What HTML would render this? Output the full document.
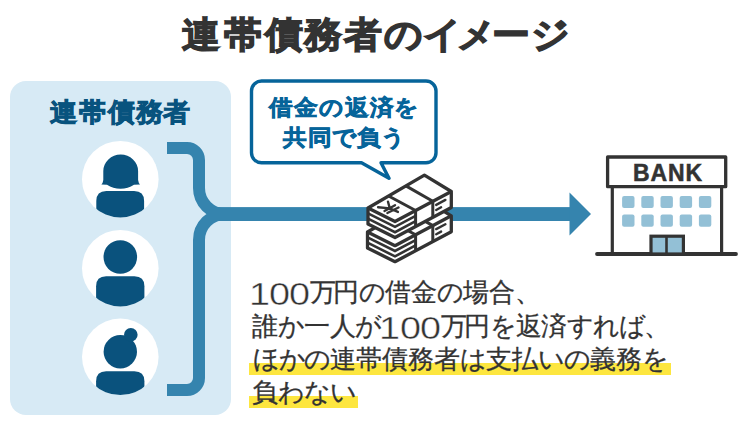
<!DOCTYPE html>
<html lang="ja">
<head>
<meta charset="utf-8">
<title>連帯債務者のイメージ</title>
<style>
html,body{margin:0;padding:0;background:#fff;}
body{width:750px;height:430px;overflow:hidden;position:relative;font-family:"Liberation Sans",sans-serif;}
.a{position:absolute;}
.ln{position:absolute;white-space:nowrap;font-family:"Liberation Sans",sans-serif;}
.ln i{display:inline-block;font-style:normal;text-align:center;overflow:visible;}
.ln i b{display:inline-block;font-weight:normal;}
.tt{transform:scaleY(0.95);transform-origin:50% 50%;font-size:38px;line-height:40px;height:40px;font-weight:bold;color:#333;-webkit-text-stroke:1.4px #333;}
.hd{transform:scaleY(0.965);transform-origin:50% 50%;font-size:27px;line-height:30px;height:30px;font-weight:bold;color:#08537e;-webkit-text-stroke:0.9px #08537e;}
.bb{transform:scaleY(0.93);transform-origin:50% 50%;font-size:24px;line-height:30px;height:30px;font-weight:bold;color:#06649a;-webkit-text-stroke:0.7px #06649a;}
.pp{font-size:26px;line-height:30px;height:30px;color:#333;-webkit-text-stroke:0.3px #333;}
.dg{font-size:31px;transform:scaleX(1.22);-webkit-text-stroke:0.4px #fff;position:relative;top:3.5px;}
#panel{left:9.5px;top:81px;width:221.5px;height:334px;border-radius:16px;background:#d7eaf5;}
.hl{position:absolute;background:#fde63f;}
</style>
</head>
<body>
<div id="panel" class="a"></div>
<div class="hl" style="left:249px;top:363px;width:422px;height:12px;"></div>
<div class="hl" style="left:249px;top:396px;width:109px;height:12px;"></div>

<svg class="a" style="left:0;top:0" width="750" height="430" viewBox="0 0 750 430">
  <defs>
    <clipPath id="c1"><circle cx="120.3" cy="179.2" r="38.3"/></clipPath>
    <clipPath id="c2"><circle cx="120.3" cy="268.2" r="38.3"/></clipPath>
    <clipPath id="c3"><circle cx="120.3" cy="356.8" r="38.3"/></clipPath>
  </defs>
  <circle cx="120.3" cy="179.2" r="38.3" fill="#fff"/>
  <circle cx="120.3" cy="268.2" r="38.3" fill="#fff"/>
  <circle cx="120.3" cy="356.8" r="38.3" fill="#fff"/>
  <g fill="#0a527d">
    <path d="M103.3 171 A17.4 16.4 0 0 1 138.1 171 L138.1 180 Q138.6 183.5 140 184.6 L134 184.8 Q128 188.7 120.5 188.7 Q113 188.7 107 184.8 L101.4 184.6 Q102.8 183.5 103.3 180 Z"/>
    <path clip-path="url(#c1)" d="M96.3 230 V201 Q96.3 190.9 106.3 190.9 H134.1 Q144.1 190.9 144.1 201 V230 Z"/>
    <circle cx="120.3" cy="257" r="16.8"/>
    <path clip-path="url(#c2)" d="M96.1 320 V286.3 Q96.1 276.3 106.1 276.3 H134.4 Q144.4 276.3 144.4 286.3 V320 Z"/>
    <circle cx="120.3" cy="351.7" r="16.7"/>
    <circle cx="130.8" cy="334.7" r="6.8"/>
    <path clip-path="url(#c3)" d="M96.1 410 V381.2 Q96.1 371.2 106.1 371.2 H134.4 Q144.4 371.2 144.4 381.2 V410 Z"/>
  </g>
  <path d="M167 148 H187 A12 12 0 0 1 199 160 V188 A26 26 0 0 0 225 214 A26 26 0 0 0 199 240 V378 A12 12 0 0 1 187 390 H167" fill="none" stroke="#3584ae" stroke-width="12"/>
  <rect x="218" y="207.1" width="353" height="13.9" fill="#3584ae"/>
  <path d="M569.5 192.5 L591 214 L569.5 235.5 Z" fill="#3584ae"/>

  <path d="M261.5 81 H426 A10 10 0 0 1 436 91 V152.8 A10 10 0 0 1 426 162.8 H381 L389 178.3 L361.5 162.8 H261.5 A10 10 0 0 1 251.5 152.8 V91 A10 10 0 0 1 261.5 81 Z" fill="#fff" stroke="#06649a" stroke-width="3.4" stroke-linejoin="round"/>

<path d="M367.5 232.0 L424.4 199.4 L451.3 215.8 L451.3 231.8 L395.0 261.7 L367.5 248.0 Z" fill="#fff" stroke="#333" stroke-width="3.3" stroke-linejoin="round"/>
<path d="M367.5 232.0 L395.0 245.7 L451.3 215.8" fill="none" stroke="#333" stroke-width="3.3" stroke-linejoin="round"/>
<path d="M388.3 220.1 L415.6 234.8 L415.6 250.8 M405.7 210.1 L432.8 225.6 L432.8 241.6" fill="none" stroke="#333" stroke-width="3" stroke-linejoin="round"/>
<path d="M367.5 237.3 L395.0 251.0 L415.6 240.1 M367.5 242.7 L395.0 256.4 L415.6 245.4 " fill="none" stroke="#333" stroke-width="2.6" stroke-linejoin="miter"/>
<path d="M436.2 229.1 L445.4 224.2 M436.2 234.2 L441.1 231.6 " fill="none" stroke="#333" stroke-width="2.4" stroke-linecap="round"/>
<path d="M368.0 208.0 L424.4 175.1 L451.3 191.5 L451.3 207.5 L395.0 237.5 L368.0 224.0 Z" fill="#fff" stroke="#333" stroke-width="3.3" stroke-linejoin="round"/>
<path d="M368.0 208.0 L395.0 221.5 L451.3 191.5" fill="none" stroke="#333" stroke-width="3.3" stroke-linejoin="round"/>
<path d="M388.6 196.0 L415.6 210.5 L415.6 226.5 M405.9 185.9 L432.8 201.3 L432.8 217.3" fill="none" stroke="#333" stroke-width="3" stroke-linejoin="round"/>
<path d="M368.0 213.3 L395.0 226.8 L415.6 215.9 M368.0 218.7 L395.0 232.2 L415.6 221.2 " fill="none" stroke="#333" stroke-width="2.6" stroke-linejoin="miter"/>
<path d="M436.2 204.9 L445.4 199.9 M436.2 210.0 L441.1 207.3 " fill="none" stroke="#333" stroke-width="2.4" stroke-linecap="round"/>
<path d="M378.1 207.2 L389.8 208.4 M388 201.7 L389.8 208.4 L397.9 211.9 M384.5 211 L395 205.2 M387.4 213 L398.5 207.5" fill="none" stroke="#333" stroke-width="2.4" stroke-linecap="round"/>

  <g stroke="#333" fill="none">
    <rect x="607.6" y="157" width="118.1" height="29.7" stroke-width="3.3" fill="#fff" stroke-linejoin="round"/>
    <path d="M612.3 188 V254 M721.6 188 V254" stroke-width="3.2"/>
    <path d="M597 254 H736" stroke-width="3.8" stroke-linecap="round"/>
    <rect x="651" y="236.2" width="32.4" height="17.8" fill="#93c0d6" stroke-width="3.2"/>
    <path d="M666.5 236 V254" stroke-width="2.6"/>
  </g>
  <g fill="#93c0d6">
    <rect x="622.1" y="196.1" width="12.4" height="12" rx="2"/>
    <rect x="641.3" y="196.1" width="12.4" height="12" rx="2"/>
    <rect x="660.5" y="196.1" width="12.4" height="12" rx="2"/>
    <rect x="679.7" y="196.1" width="12.4" height="12" rx="2"/>
    <rect x="698.9" y="196.1" width="12.4" height="12" rx="2"/>
    <rect x="622.1" y="214.5" width="12.4" height="12.3" rx="2"/>
    <rect x="641.3" y="214.5" width="12.4" height="12.3" rx="2"/>
    <rect x="660.5" y="214.5" width="12.4" height="12.3" rx="2"/>
    <rect x="679.7" y="214.5" width="12.4" height="12.3" rx="2"/>
    <rect x="698.9" y="214.5" width="12.4" height="12.3" rx="2"/>
  </g>
  <text x="667.9" y="181" text-anchor="middle" font-family="Liberation Sans" font-weight="bold" font-size="23" letter-spacing="0.9" fill="#333" stroke="#333" stroke-width="0.5">BANK</text>
</svg>

<div class="ln tt" style="left:180.10px;top:15.40px"><i style="width:42.60px">連</i><i style="width:41.30px">帯</i><i style="width:39.10px">債</i><i style="width:39.50px">務</i><i style="width:40.90px">者</i><i style="width:39.75px">の</i><i style="width:34.00px">イ</i><i style="width:34.35px">メ</i><i style="width:39.35px">ー</i><i style="width:39.50px">ジ</i></div>
<div class="ln hd" style="left:48.85px;top:96.90px"><i style="width:29.10px">連</i><i style="width:29.10px">帯</i><i style="width:28.60px">債</i><i style="width:27.70px">務</i><i style="width:27.30px">者</i></div>
<div class="ln bb" style="left:268.65px;top:92.60px"><i style="width:25.30px">借</i><i style="width:25.05px">金</i><i style="width:25.05px">の</i><i style="width:25.30px">返</i><i style="width:24.75px">済</i><i style="width:24.20px">を</i></div>
<div class="ln bb" style="left:282.45px;top:123.40px"><i style="width:25.30px">共</i><i style="width:24.45px">同</i><i style="width:24.50px">で</i><i style="width:24.60px">負</i><i style="width:23.80px">う</i></div>
<div class="ln pp" style="left:249.80px;top:276.30px"><i style="width:19.70px"><b class="dg">1</b></i><i style="width:20.15px"><b class="dg">0</b></i><i style="width:20.48px"><b class="dg">0</b></i><i style="width:23.14px">万</i><i style="width:25.93px">円</i><i style="width:25.93px">の</i><i style="width:25.93px">借</i><i style="width:25.93px">金</i><i style="width:25.93px">の</i><i style="width:25.93px">場</i><i style="width:25.93px">合</i><i style="width:25.93px">、</i></div>
<div class="ln pp" style="left:251.00px;top:310.30px"><i style="width:27.00px">誰</i><i style="width:26.35px">か</i><i style="width:25.25px">一</i><i style="width:25.45px">人</i><i style="width:23.68px">が</i><i style="width:21.05px"><b class="dg">1</b></i><i style="width:20.83px"><b class="dg">0</b></i><i style="width:20.50px"><b class="dg">0</b></i><i style="width:22.97px">万</i><i style="width:25.75px">円</i><i style="width:25.75px">を</i><i style="width:25.75px">返</i><i style="width:25.75px">済</i><i style="width:25.75px">す</i><i style="width:25.75px">れ</i><i style="width:25.75px">ば</i><i style="width:25.75px">、</i></div>
<div class="ln pp" style="left:252.56px;top:344.20px"><i style="width:25.98px">ほ</i><i style="width:25.98px">か</i><i style="width:25.98px">の</i><i style="width:25.98px">連</i><i style="width:25.98px">帯</i><i style="width:25.98px">債</i><i style="width:25.98px">務</i><i style="width:25.98px">者</i><i style="width:25.98px">は</i><i style="width:25.98px">支</i><i style="width:25.98px">払</i><i style="width:25.98px">い</i><i style="width:25.98px">の</i><i style="width:25.98px">義</i><i style="width:25.98px">務</i><i style="width:25.98px">を</i></div>
<div class="ln pp" style="left:252.21px;top:376.70px"><i style="width:25.98px">負</i><i style="width:25.98px">わ</i><i style="width:25.98px">な</i><i style="width:25.98px">い</i></div>
</body>
</html>
